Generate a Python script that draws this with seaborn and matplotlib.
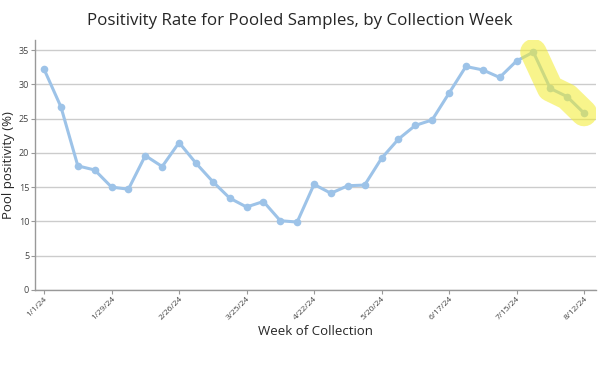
import seaborn as sns
import matplotlib.pyplot as plt
import pandas as pd

# weekly pool positivity, 1/1/24 .. 8/12/24
weeks = pd.date_range("2024-01-01", "2024-08-12", freq="7D")
positivity = [32.2, 26.7, 18.1, 17.5, 15.0, 14.7, 19.6, 18.0, 21.5, 18.5,
              15.8, 13.4, 12.1, 12.9, 10.1, 9.9, 15.4, 14.1, 15.2, 15.3,
              19.2, 22.0, 24.0, 24.8, 28.7, 32.6, 32.1, 31.0, 33.4, 34.7,
              29.4, 28.2, 25.8]
highlight_from = 29  # last four weeks highlighted
tick_labels = ["1/1/24", "1/29/24", "2/26/24", "3/25/24", "4/22/24",
               "5/20/24", "6/17/24", "7/15/24", "8/12/24"]

df = pd.DataFrame({"week": range(len(weeks)), "positivity": positivity})

sns.set_style("white")
plt.rcParams["font.family"] = ["Open Sans", "DejaVu Sans"]

fig = plt.figure(figsize=(6, 3.78), dpi=100)
ax = fig.add_axes([0.058, 0.233, 0.935, 0.66])

sns.lineplot(data=df, x="week", y="positivity", ax=ax, color="#9dc3e8",
             linewidth=2.2, marker="o", markersize=5.5, markeredgewidth=0,
             zorder=3)

# yellow highlighter stroke over the recent weeks
hl = df.iloc[highlight_from:]
ax.plot(hl["week"], hl["positivity"], color="#f3ec2c", alpha=0.55,
        linewidth=19, solid_capstyle="round", solid_joinstyle="round",
        zorder=4)

ax.set_xlim(-0.55, 32.7)
ax.set_ylim(0, 36.4)
ax.set_yticks(range(0, 36, 5))
ax.yaxis.grid(True, color="#cccccc", linewidth=1)
ax.set_axisbelow(True)

ax.set_xticks(df["week"][::4])
ax.set_xticklabels(tick_labels, rotation=45, ha="right", rotation_mode="anchor",
                   fontsize=6, color="#444444")
ax.tick_params(axis="y", labelsize=6.5, labelcolor="#444444", length=3,
               color="#999999", left=True, pad=1)
ax.tick_params(axis="x", length=3, color="#999999", bottom=True, pad=1)

for side in ["top", "right"]:
    ax.spines[side].set_visible(False)
for side in ["left", "bottom"]:
    ax.spines[side].set_color("#999999")
    ax.spines[side].set_linewidth(1)

ax.set_xlabel("Week of Collection", fontsize=9.5, labelpad=2)
ax.set_ylabel("Pool positivity (%)", fontsize=9.5, labelpad=3)
fig.suptitle("Positivity Rate for Pooled Samples, by Collection Week",
             fontsize=12.2, y=0.965)

plt.savefig("out.png", dpi=100)
plt.close()
